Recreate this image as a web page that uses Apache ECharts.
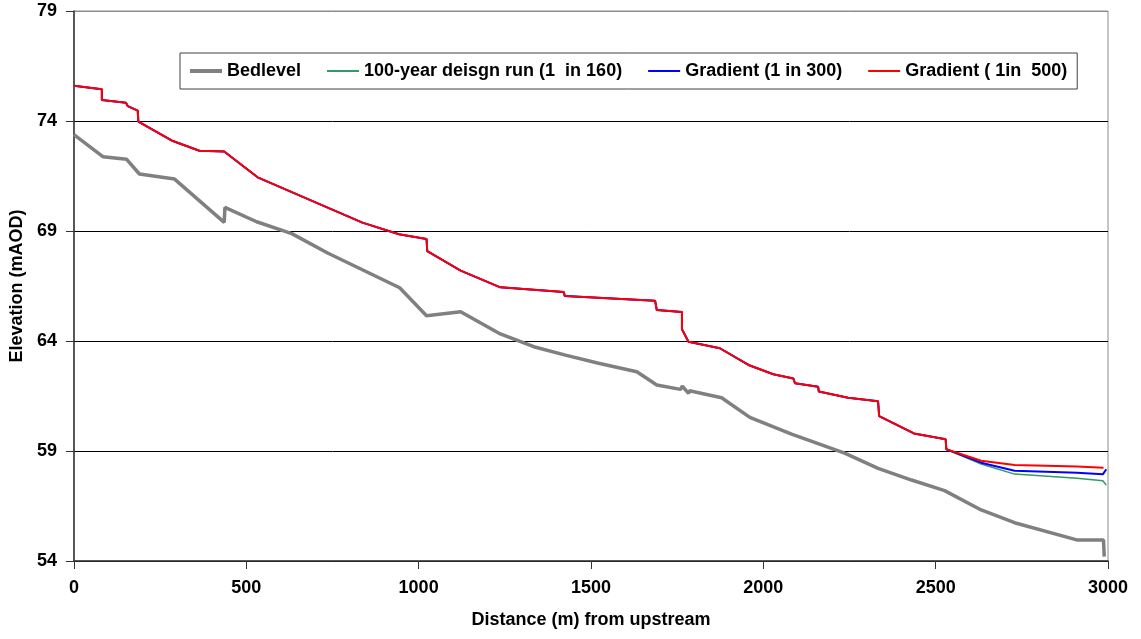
<!DOCTYPE html>
<html>
<head>
<meta charset="utf-8">
<script src="https://cdn.jsdelivr.net/npm/echarts@6/dist/echarts.min.js"></script>
<style>html,body{margin:0;padding:0;background:#fff;}#c{width:1141px;height:639px;}</style>
</head>
<body>
<div id="c"></div>
<script>
// Axis ticks
var xTicks = [0, 500, 1000, 1500, 2000, 2500, 3000];
var yTicks = [54, 59, 64, 69, 74, 79];

// Series names
var seriesNames = ['Bedlevel', '100-year deisgn run (1  in 160)', 'Gradient (1 in 300)', 'Gradient ( 1in  500)'];

// Bed level profile
var bedDist  = [0, 84, 153, 190, 292, 436, 438, 530, 632, 736, 945, 1023, 1122, 1237, 1334, 1426, 1522, 1633, 1691, 1760, 1765, 1783, 1786, 1879, 1961, 2082, 2236, 2333, 2430, 2526, 2632, 2729, 2912, 2987, 2989];
var bedLevel = [73.38, 72.38, 72.26, 71.59, 71.36, 69.39, 70.07, 69.42, 68.88, 68.0, 66.42, 65.15, 65.33, 64.32, 63.74, 63.36, 62.99, 62.60, 62.00, 61.80, 61.95, 61.62, 61.74, 61.42, 60.53, 59.77, 58.90, 58.21, 57.68, 57.20, 56.32, 55.74, 54.95, 54.95, 54.20];

// Water level common to all runs (upstream part)
var wlDist  = [0, 81, 81, 151, 156, 185, 187, 287, 364, 436, 533, 837, 943, 1023, 1025, 1122, 1237, 1421, 1424, 1686, 1691, 1764, 1764, 1783, 1874, 1957, 2029, 2087, 2092, 2159, 2161, 2246, 2333, 2336, 2437, 2529, 2531];
var wlLevel = [75.60, 75.44, 74.95, 74.83, 74.68, 74.47, 73.97, 73.09, 72.65, 72.61, 71.44, 69.38, 68.85, 68.64, 68.09, 67.20, 66.44, 66.23, 66.05, 65.83, 65.41, 65.32, 64.53, 63.97, 63.67, 62.91, 62.49, 62.30, 62.08, 61.92, 61.70, 61.42, 61.26, 60.59, 59.80, 59.53, 59.08];

// Downstream tails of each run
var run160Dist  = [2632, 2729, 2910, 2914, 2985, 2995];
var run160Level = [58.41, 57.95, 57.76, 57.68, 57.65, 57.45];
var g300Dist    = [2632, 2729, 2910, 2914, 2985, 2995];
var g300Level   = [58.47, 58.10, 58.01, 57.95, 57.94, 58.17];
var g500Dist    = [2632, 2729, 2910, 2912, 2987];
var g500Level   = [58.56, 58.36, 58.29, 58.26, 58.24];

function pairs(xs, ys) { return xs.map(function (x, i) { return [x, ys[i]]; }); }
function withTail(tx, ty) { return pairs(wlDist.concat(tx), wlLevel.concat(ty)); }

var FONT = '"Liberation Sans", Arial, sans-serif';
var thick = 'path://M0,0H32V4H0Z';
var thin = 'path://M0,0H32V2H0Z';
var chart = echarts.init(document.getElementById('c'), null, { renderer: 'canvas' });
chart.setOption({
  animation: false,
  backgroundColor: '#ffffff',
  grid: { left: 71, right: 33, top: 11, bottom: 78, show: true, borderColor: '#8c8c8c', borderWidth: 1, backgroundColor: 'transparent' },
  legend: {
    left: 180, top: 53,
    padding: [9, 10, 9, 10],
    itemGap: 26, itemWidth: 32, itemHeight: 14,
    borderColor: '#404040', borderWidth: 1,
    backgroundColor: '#ffffff',
    data: [
      { name: seriesNames[0], icon: thick },
      { name: seriesNames[1], icon: thin },
      { name: seriesNames[2], icon: thin },
      { name: seriesNames[3], icon: thin }
    ],
    textStyle: { fontFamily: FONT, fontWeight: 'bold', fontSize: 18, color: '#000' }
  },
  xAxis: {
    type: 'value', min: xTicks[0], max: xTicks[xTicks.length - 1], interval: 500,
    name: 'Distance (m) from upstream', nameLocation: 'middle', nameGap: 50,
    nameTextStyle: { fontFamily: FONT, fontWeight: 'bold', fontSize: 18, color: '#000' },
    axisLine: { show: true, lineStyle: { color: '#333', width: 1.5 } },
    axisTick: { show: true, length: 8, lineStyle: { color: '#333' } },
    axisLabel: { margin: 18, fontFamily: FONT, fontWeight: 'bold', fontSize: 18, color: '#000', formatter: function (v) { return String(v); } },
    splitLine: { show: false }
  },
  yAxis: {
    type: 'value', min: yTicks[0], max: yTicks[yTicks.length - 1], interval: 5,
    name: 'Elevation (mAOD)', nameLocation: 'middle', nameGap: 44, nameRotate: 90,
    nameTextStyle: { fontFamily: FONT, fontWeight: 'bold', fontSize: 18, color: '#000' },
    axisLine: { show: true, lineStyle: { color: '#333', width: 1.5 } },
    axisTick: { show: true, length: 8, lineStyle: { color: '#333' } },
    axisLabel: { margin: 17, fontFamily: FONT, fontWeight: 'bold', fontSize: 18, color: '#000', formatter: function (v) { return String(v); } },
    splitLine: { show: true, lineStyle: { color: ['#000', '#000', '#000', '#000', '#000', '#8c8c8c'], width: 1 } }
  },
  series: [
    { name: seriesNames[0], type: 'line', symbol: 'none', data: pairs(bedDist, bedLevel), lineStyle: { color: '#808080', width: 3.5 }, itemStyle: { color: '#808080' } },
    { name: seriesNames[1], type: 'line', symbol: 'none', data: withTail(run160Dist, run160Level), lineStyle: { color: '#339966', width: 1.5 }, itemStyle: { color: '#339966' } },
    { name: seriesNames[2], type: 'line', symbol: 'none', data: withTail(g300Dist, g300Level), lineStyle: { color: '#0000ff', width: 2 }, itemStyle: { color: '#0000ff' } },
    { name: seriesNames[3], type: 'line', symbol: 'none', data: withTail(g500Dist, g500Level), lineStyle: { color: '#ff0000', width: 2 }, itemStyle: { color: '#ff0000' } }
  ]
});
</script>
</body>
</html>
